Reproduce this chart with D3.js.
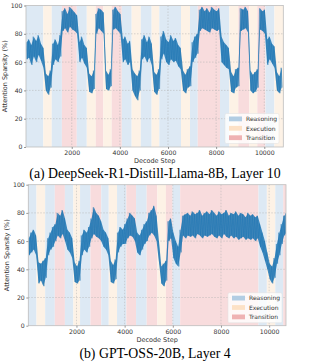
<!DOCTYPE html>
<html>
<head>
<meta charset="utf-8">
<script src="https://cdn.jsdelivr.net/npm/d3@7"></script>
<style>
  body { margin: 0; background: #fff; }
  .tick text { font-family: "DejaVu Sans", sans-serif; font-size: 6.2px; fill: #333; }
  .lab { font-family: "DejaVu Sans", sans-serif; font-size: 6.5px; fill: #333; }
  .cap { font-family: "Liberation Serif", "Times New Roman", serif; font-size: 13.8px; fill: #000; }
</style>
</head>
<body>
<div id="chart"></div>
<script>
(function () {
  var W = 311, H = 362;

  var phaseNames = ["Reasoning", "Execution", "Transition"];
  var phaseColors = ["#dde9f4", "#fdf2e6", "#f8dcdd"];
  var legendColors = ["#b2cde3", "#fde1c6", "#efb2b3"];

  var yTicks = [0, 20, 40, 60, 80, 100];
  var xTicks = [2000, 4000, 6000, 8000, 10000];

  // phase spans [start, end, phase index] ; 0 reasoning, 1 execution, 2 transition
  var topSpans = [
    [100, 820, 0], [820, 1170, 1], [1170, 1590, 0], [1590, 2210, 2], [2210, 2625, 0],
    [2625, 3000, 1], [3000, 3315, 2], [3315, 3660, 1], [3660, 4080, 2], [4080, 4490, 0],
    [4490, 4870, 1], [4870, 5320, 0], [5320, 5640, 1], [5640, 6540, 0], [6540, 6915, 1],
    [6915, 7235, 0], [7235, 8160, 2], [8160, 8550, 0], [8550, 8920, 1], [8920, 9380, 2],
    [9380, 9710, 1], [9710, 10050, 2], [10050, 10420, 0], [10420, 10790, 1]
  ];
  var bottomSpans = [
    [0, 340, 0], [340, 700, 1], [700, 1100, 0], [1100, 1520, 2], [1520, 1870, 0],
    [1870, 2150, 1], [2150, 2580, 0], [2580, 3030, 2], [3030, 3340, 0], [3340, 3685, 1],
    [3685, 4070, 0], [4070, 4475, 2], [4475, 4915, 0], [4915, 5360, 2], [5360, 5715, 1],
    [5715, 5990, 2], [5990, 6305, 0], [6305, 9560, 2], [9560, 9905, 0], [9905, 10255, 1],
    [10255, 10585, 0], [10585, 10700, 2]
  ];

  // sparsity read every 100 steps: upper and lower edge of the noisy trace
  var topStart = 100;
  var topHi = [74,76,72,78,75,79,73,70, 52,50,54, 73,76,72,79, 96,98,94,99,97,95,93,
    74,78,72,70, 52,50,54,94, 98,97,95, 54,51,55, 97,99,96,94, 76,78,73,75,
    55,52,50,54, 76,79,74,78,73, 53,51,55, 78,82,76,74,79,75,77,72,70,
    54,51,55,57, 74,78,80, 97,99,96,98,95,99,97,96,98, 78,74,72,70,
    53,50,55,56, 98,97,99,96, 54,51,53,55, 98,96,97, 76,78,73,71, 53,50,56];
  var topLo = [62,63,58,64,60,65,61,56, 40,37,42, 58,62,60,64, 82,84,81,85,83,82,80,
    60,63,59,56, 39,38,41,80, 84,82,80, 41,40,43, 83,84,82,80, 60,62,58,60,
    40,36,33,40, 62,64,60,63,58, 39,37,41, 62,66,60,58,62,60,61,57,55,
    40,38,42,43, 60,63,66, 82,84,83,82,81,84,83,82,83, 60,58,56,55,
    39,38,42,43, 82,83,84,81, 40,38,39,42, 83,82,80, 58,62,59,56, 40,38,42];

  var bottomStart = 0;
  var bottomHi = [62,66,68,64, 45,44,46,48, 62,66,70, 72,80,78,82,76, 68,66,62,
    45,42,46, 64,68,66,70, 76,84,80,78,74, 68,66,62, 46,43,47, 66,70,68,72,
    76,80,78,76, 66,64,68,72,74, 80,82,85,78, 60,42,44,46, 74,76, 66,60,56,68,
    78,79,80,78,81,79,80,82,78,80,81,79,82,80,78,81,79,80,82,78,80,79,81,78,80,79,77,80,78,79,77,78,
    72,66,60,52, 44,42,48, 58,66,72, 78,80];
  var bottomLo = [50,52,54,50, 30,32,28,34, 50,54,56, 60,64,62,65,60, 54,52,48,
    31,30,32, 50,54,52,56, 62,65,63,62,60, 56,54,50, 31,30,33, 52,56,58,58,
    62,64,63,60, 52,50,54,58,60, 64,66,64,60, 45,30,28,32, 60,62, 48,44,42,52,
    64,62,64,63,64,62,65,64,62,64,63,64,65,63,62,64,62,65,63,62,64,62,63,61,62,63,61,62,61,62,60,62,
    56,52,46,40, 33,30,34, 44,50,58, 64,66];

  var svg = d3.select("#chart").append("svg")
      .attr("width", W)
      .attr("height", H);

  function panel(o) {
    var x = d3.scaleLinear().domain(o.domain).range([o.left, o.right]);
    var y = d3.scaleLinear().domain([0, 100]).range([o.bottom, o.top]);
    var g = svg.append("g");

    var clipId = "clip" + o.id;
    g.append("clipPath").attr("id", clipId)
      .append("rect")
        .attr("x", o.left).attr("y", o.top)
        .attr("width", o.right - o.left).attr("height", o.bottom - o.top);

    // phase backgrounds
    g.selectAll("rect.span")
        .data(o.spans)
        .enter().append("rect")
        .attr("class", "span")
        .attr("x", function(d) { return x(d[0]); })
        .attr("width", function(d) { return x(d[1]) - x(d[0]); })
        .attr("y", o.top)
        .attr("height", o.bottom - o.top)
        .attr("fill", function(d) { return phaseColors[d[2]]; });

    // grid
    g.selectAll("line.gy")
        .data(yTicks.slice(1, -1))
        .enter().append("line")
        .attr("x1", o.left).attr("x2", o.right)
        .attr("y1", function(d) { return y(d); })
        .attr("y2", function(d) { return y(d); })
        .attr("stroke", "#b0b0b0").attr("stroke-width", 0.5)
        .attr("stroke-dasharray", "1.5,1.5");
    g.selectAll("line.gx")
        .data(xTicks)
        .enter().append("line")
        .attr("y1", o.top).attr("y2", o.bottom)
        .attr("x1", function(d) { return x(d); })
        .attr("x2", function(d) { return x(d); })
        .attr("stroke", "#b0b0b0").attr("stroke-width", 0.5)
        .attr("stroke-dasharray", "1.5,1.5");

    var rows = o.hi.map(function(v, i) {
      return { s: o.start + i * 100, hi: v, lo: o.lo[i] };
    });

    // dense core of the trace
    var area = d3.area()
        .x(function(d) { return x(d.s + 25); })
        .y0(function(d) { return y(d.lo); })
        .y1(function(d) { return y(d.hi); });
    g.append("path")
        .datum(rows)
        .attr("clip-path", "url(#" + clipId + ")")
        .attr("d", area)
        .attr("fill", "#1f77b4")
        .attr("fill-opacity", 0.85);

    // zig-zag spikes between upper and lower readings
    var pts = [];
    rows.forEach(function(d) {
      pts.push([d.s, d.hi]);
      pts.push([d.s + 50, d.lo]);
    });
    var line = d3.line()
        .x(function(d) { return x(d[0]); })
        .y(function(d) { return y(d[1]); });
    g.append("path")
        .datum(pts)
        .attr("clip-path", "url(#" + clipId + ")")
        .attr("d", line)
        .attr("fill", "none")
        .attr("stroke", "#1f77b4")
        .attr("stroke-opacity", 0.8)
        .attr("stroke-width", 0.6);

    // frame
    g.append("rect")
        .attr("x", o.left).attr("y", o.top)
        .attr("width", o.right - o.left).attr("height", o.bottom - o.top)
        .attr("fill", "none").attr("stroke", "#bdbdbd").attr("stroke-width", 0.8);

    // axes
    var ax = g.append("g")
        .attr("transform", "translate(0," + o.bottom + ")")
        .call(d3.axisBottom(x).tickValues(xTicks).tickFormat(d3.format("d"))
          .tickSize(2).tickPadding(1.5));
    var ay = g.append("g")
        .attr("transform", "translate(" + o.left + ",0)")
        .call(d3.axisLeft(y).tickValues(yTicks).tickFormat(d3.format("d"))
          .tickSize(2).tickPadding(1.5));
    [ax, ay].forEach(function(a) {
      a.select(".domain").remove();
      a.selectAll(".tick line").attr("stroke", "#555").attr("stroke-width", 0.6);
    });

    g.append("text")
        .attr("class", "lab")
        .attr("transform", "translate(" + o.ylabX + "," + ((o.top + o.bottom) / 2) + ") rotate(-90)")
        .attr("text-anchor", "middle")
        .text("Attention Sparsity (%)");
    g.append("text")
        .attr("class", "lab")
        .attr("x", (o.left + o.right) / 2)
        .attr("y", o.bottom + 16)
        .attr("text-anchor", "middle")
        .text("Decode Step");
    g.append("text")
        .attr("class", "cap")
        .attr("x", 155)
        .attr("y", o.capY)
        .attr("text-anchor", "middle")
        .text(o.caption);

    // legend
    var lg = g.append("g").attr("transform", "translate(" + o.legX + "," + o.legY + ")");
    lg.append("rect")
        .attr("width", 54).attr("height", 30).attr("rx", 1.5)
        .attr("fill", "#fff").attr("fill-opacity", 0.8)
        .attr("stroke", "#e0e0e0").attr("stroke-width", 0.5);
    var it = lg.selectAll("g.item")
        .data(phaseNames)
        .enter().append("g")
        .attr("transform", function(d, i) { return "translate(4," + (3 + i * 9.4) + ")"; });
    it.append("rect")
        .attr("width", 13).attr("height", 4.8)
        .attr("fill", function(d, i) { return legendColors[i]; });
    it.append("text")
        .attr("class", "lab")
        .attr("x", 17).attr("y", 4.6)
        .style("font-size", "6px")
        .text(function(d) { return d; });
  }

  panel({
    id: "a", domain: [100, 10790], left: 26, right: 283.3, top: 5.5, bottom: 147,
    spans: topSpans, hi: topHi, lo: topLo, start: topStart, ylabX: 7,
    caption: "(a) DeepSeek-R1-Distill-Llama-8B, Layer 10", capY: 177.5,
    legX: 225, legY: 113.5
  });
  panel({
    id: "b", domain: [0, 10700], left: 28.3, right: 286, top: 184.7, bottom: 325.7,
    spans: bottomSpans, hi: bottomHi, lo: bottomLo, start: bottomStart, ylabX: 9,
    caption: "(b) GPT-OSS-20B, Layer 4", capY: 357.5,
    legX: 228, legY: 292.7
  });
})();
</script>
</body>
</html>
